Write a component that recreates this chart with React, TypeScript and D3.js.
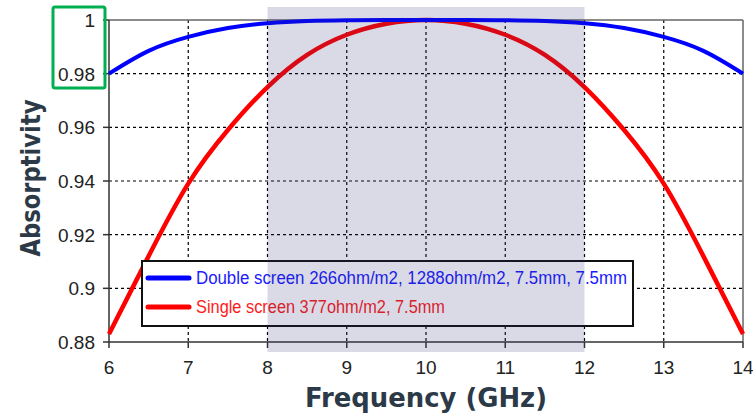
import React from "react";
import * as d3 from "d3";

const freqs = [6, 6.5, 7, 7.5, 8, 8.5, 9, 9.5, 10, 10.5, 11, 11.5, 12, 12.5, 13, 13.5, 14];
const doubleScreen = [0.98, 0.9885, 0.9937, 0.997, 0.9988, 0.9996, 0.9999, 1.0, 1.0, 1.0, 0.9999, 0.9996, 0.9988, 0.997, 0.9937, 0.9885, 0.98];
const singleScreen = [0.883, 0.912, 0.939, 0.959, 0.975, 0.987, 0.9945, 0.9986, 1.0, 0.9986, 0.9945, 0.987, 0.975, 0.959, 0.939, 0.912, 0.883];
const xTicks = [6, 7, 8, 9, 10, 11, 12, 13, 14];
const yTicks = [0.88, 0.9, 0.92, 0.94, 0.96, 0.98, 1];
const yTickLabels = ["0.88", "0.9", "0.92", "0.94", "0.96", "0.98", "1"];
const bandRange = [8, 12];
const seriesNames = [
  "Double screen 266ohm/m2, 1288ohm/m2, 7.5mm, 7.5mm",
  "Single screen 377ohm/m2, 7.5mm",
];
const xTitle = "Frequency (GHz)";
const yTitle = "Absorptivity";

export default function App() {
  const W = 753, H = 419;
  const left = 109, right = 743, top = 20, bottom = 342;
  const x = d3.scaleLinear().domain([6, 14]).range([left, right]);
  const y = d3.scaleLinear().domain([0.88, 1]).range([bottom, top]);
  const line = d3
    .line<number>()
    .x((_, i) => x(freqs[i]))
    .y((d) => y(d))
    .curve(d3.curveNatural);
  const tickFont = "'Liberation Sans', Arial, sans-serif";
  const titleColor = "#2c3a48";
  return (
    <svg width={W} height={H} style={{ position: "absolute", left: 0, top: 0 }}>
      <rect x={0} y={0} width={W} height={H} fill="#fff" />
      {/* grid */}
      {xTicks.slice(1, -1).map((t) => (
        <line key={"gx" + t} x1={x(t)} x2={x(t)} y1={top} y2={bottom} stroke="#000" strokeWidth={1.2} strokeDasharray="3,3" />
      ))}
      {yTicks.slice(1, -1).map((t) => (
        <line key={"gy" + t} x1={left} x2={right} y1={y(t)} y2={y(t)} stroke="#000" strokeWidth={1.2} strokeDasharray="3,3" />
      ))}
      {/* frame */}
      <line x1={left} x2={right} y1={top} y2={top} stroke="#666" strokeWidth={1.5} />
      <line x1={right} x2={right} y1={top} y2={bottom} stroke="#666" strokeWidth={1.5} />
      <line x1={left} x2={left} y1={top} y2={bottom} stroke="#333" strokeWidth={1.5} />
      <line x1={left} x2={right} y1={bottom} y2={bottom} stroke="#333" strokeWidth={1.5} />
      {xTicks.map((t) => (
        <line key={"tx" + t} x1={x(t)} x2={x(t)} y1={bottom} y2={bottom + 6} stroke="#333" strokeWidth={1.5} />
      ))}
      {yTicks.map((t) => (
        <line key={"ty" + t} x1={left - 6} x2={left} y1={y(t)} y2={y(t)} stroke="#333" strokeWidth={1.5} />
      ))}
      {/* curves */}
      <path d={line(singleScreen) || ""} fill="none" stroke="#ff0000" strokeWidth={4.5} />
      <path d={line(doubleScreen) || ""} fill="none" stroke="#0000ff" strokeWidth={4} />
      {/* legend */}
      <rect x={142} y={261} width={491} height={65} fill="#fff" stroke="#111" strokeWidth={2} />
      <line x1={148} x2={189} y1={278} y2={278} stroke="#0000ff" strokeWidth={5} strokeLinecap="round" />
      <line x1={148} x2={189} y1={307} y2={307} stroke="#ff0000" strokeWidth={5} strokeLinecap="round" />
      <text x={196} y={284} fontFamily={tickFont} fontSize={18} fill="#1a1aff" textLength={431} lengthAdjust="spacingAndGlyphs">
        {seriesNames[0]}
      </text>
      <text x={196} y={313} fontFamily={tickFont} fontSize={18} fill="#ff1a1a" textLength={249} lengthAdjust="spacingAndGlyphs">
        {seriesNames[1]}
      </text>
      {/* shaded band */}
      <rect x={x(bandRange[0])} y={7} width={x(bandRange[1]) - x(bandRange[0])} height={345} fill="#2c3174" opacity={0.18} />
      {/* tick labels */}
      {xTicks.map((t) => (
        <text key={"lx" + t} x={x(t)} y={374} textAnchor="middle" fontFamily={tickFont} fontSize={19} fill="#222">
          {t}
        </text>
      ))}
      {yTicks.map((t, i) => (
        <text key={"ly" + t} x={95} y={y(t) + 7} textAnchor="end" fontFamily={tickFont} fontSize={19} fill="#222">
          {yTickLabels[i]}
        </text>
      ))}
      {/* green highlight box */}
      <rect x={53} y={7} width={52} height={81} rx={2} fill="none" stroke="#00b050" strokeWidth={3} />
      {/* axis titles */}
      <text x={426} y={407} textAnchor="middle" fontFamily="'DejaVu Sans', sans-serif" fontWeight="bold" fontSize={27} fill={titleColor} textLength={242} lengthAdjust="spacingAndGlyphs">
        {xTitle}
      </text>
      <text transform="translate(40,178) rotate(-90)" textAnchor="middle" fontFamily="'DejaVu Sans', sans-serif" fontWeight="bold" fontSize={26} fill={titleColor} textLength={157} lengthAdjust="spacingAndGlyphs">
        {yTitle}
      </text>
    </svg>
  );
}
